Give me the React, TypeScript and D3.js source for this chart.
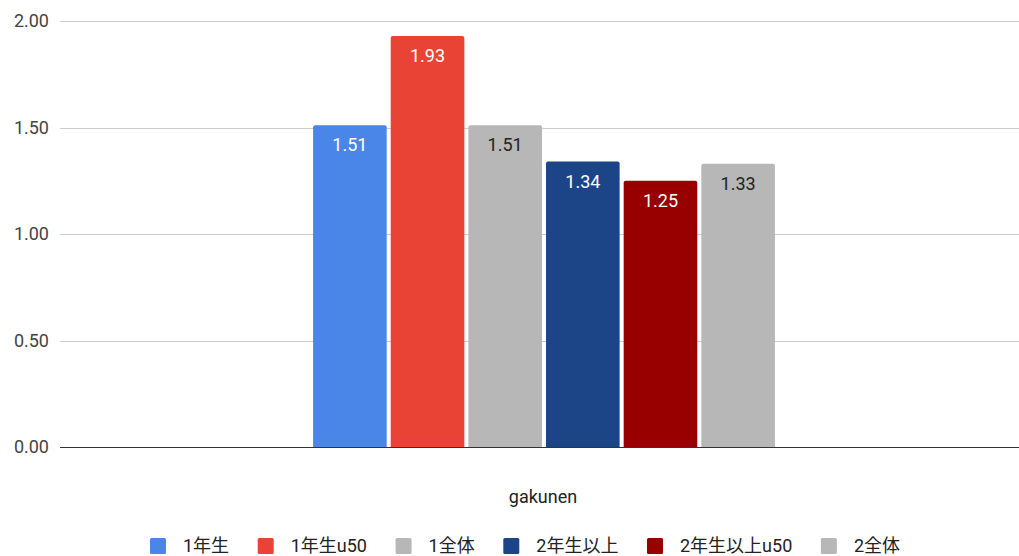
import React, { useEffect, useRef } from "react";
import * as d3 from "d3";

const categories = ["gakunen"];
const seriesNames = ["1年生", "1年生u50", "1全体", "2年生以上", "2年生以上u50", "2全体"];
const seriesValues = [1.51, 1.93, 1.51, 1.34, 1.25, 1.33];
const seriesColors = ["#4a86e8", "#e84335", "#b7b7b7", "#1c4587", "#980000", "#b7b7b7"];
const labelColors = ["#ffffff", "#ffffff", "#222222", "#ffffff", "#ffffff", "#222222"];
const yTicks = [0, 0.5, 1.0, 1.5, 2.0];

const W = 1019;
const H = 556;
const FONT = "Roboto, 'Noto Sans CJK JP', sans-serif";

export default function App() {
  const ref = useRef<SVGSVGElement>(null);

  useEffect(() => {
    const svg = d3.select(ref.current);
    svg.selectAll("*").remove();

    const left = 60, right = 1028, top = 21, bottom = 447;
    const y = d3.scaleLinear().domain([0, 2]).range([bottom, top]);
    const x0 = d3.scaleBand().domain(categories).range([left, right]).paddingInner(0).paddingOuter(0.548);
    const x1 = d3.scaleBand().domain(seriesNames).range([0, x0.bandwidth()]).paddingInner(0.052).paddingOuter(0);

    const g = svg.append("g");
    g.selectAll("line.grid")
      .data(yTicks.filter((t) => t !== 0))
      .join("line")
      .attr("x1", left)
      .attr("x2", W)
      .attr("y1", (d) => Math.round(y(d)) + 0.5)
      .attr("y2", (d) => Math.round(y(d)) + 0.5)
      .attr("stroke", "#cccccc")
      .attr("stroke-width", 1);

    g.selectAll("text.tick")
      .data(yTicks)
      .join("text")
      .attr("x", 49)
      .attr("y", (d) => y(d))
      .attr("dy", "0.35em")
      .attr("text-anchor", "end")
      .attr("font-family", FONT)
      .attr("font-size", 18)
      .attr("fill", "#444444")
      .text((d) => d3.format(".2f")(d));

    const data = seriesNames.map((name, i) => ({ name, value: seriesValues[i], i }));
    const cat = categories[0];
    const bx = x0(cat) ?? 0;
    const r = 2;
    g.selectAll("path.bar")
      .data(data)
      .join("path")
      .attr("d", (d) => {
        const xs = bx + (x1(d.name) ?? 0);
        const w = x1.bandwidth();
        const yt = y(d.value);
        const yb = y(0);
        return `M${xs},${yb}V${yt + r}Q${xs},${yt} ${xs + r},${yt}H${xs + w - r}Q${xs + w},${yt} ${xs + w},${yt + r}V${yb}Z`;
      })
      .attr("fill", (d) => seriesColors[d.i]);

    g.selectAll("text.val")
      .data(data)
      .join("text")
      .attr("x", (d) => bx + (x1(d.name) ?? 0) + x1.bandwidth() / 2)
      .attr("y", (d) => y(d.value) + 26)
      .attr("text-anchor", "middle")
      .attr("font-family", FONT)
      .attr("font-size", 18)
      .attr("fill", (d) => labelColors[d.i])
      .text((d) => d3.format(".2f")(d.value));

    g.append("line")
      .attr("x1", left)
      .attr("x2", W)
      .attr("y1", Math.round(y(0)) + 0.5)
      .attr("y2", Math.round(y(0)) + 0.5)
      .attr("stroke", "#333333")
      .attr("stroke-width", 1);

    g.append("text")
      .attr("x", 543)
      .attr("y", 497)
      .attr("dy", "0.35em")
      .attr("text-anchor", "middle")
      .attr("font-family", FONT)
      .attr("font-size", 18)
      .attr("fill", "#222222")
      .text(categories[0]);

    const lg = svg.append("g");
    const items = lg.selectAll("g.item").data(data).join("g");
    items
      .append("rect")
      .attr("width", 16)
      .attr("height", 16)
      .attr("y", 538)
      .attr("rx", 1.5)
      .attr("fill", (d) => seriesColors[d.i]);
    items
      .append("text")
      .attr("x", 33)
      .attr("y", 546)
      .attr("dy", "0.35em")
      .attr("font-family", FONT)
      .attr("font-size", 18)
      .attr("fill", "#222222")
      .text((d) => d.name);
    const widths: number[] = [];
    items.each(function () {
      const t = (this as SVGGElement).querySelector("text") as SVGTextElement;
      widths.push(33 + t.getComputedTextLength());
    });
    const startX = 150, endX = 900;
    const gap = (endX - startX - d3.sum(widths)) / (widths.length - 1);
    let cx = startX;
    items.attr("transform", (_d, i) => {
      const tx = cx;
      cx += widths[i] + gap;
      return `translate(${tx},0)`;
    });
  }, []);

  return (
    <svg
      ref={ref}
      width={W}
      height={H}
      style={{ position: "absolute", left: 0, top: 0, background: "#ffffff" }}
    />
  );
}
